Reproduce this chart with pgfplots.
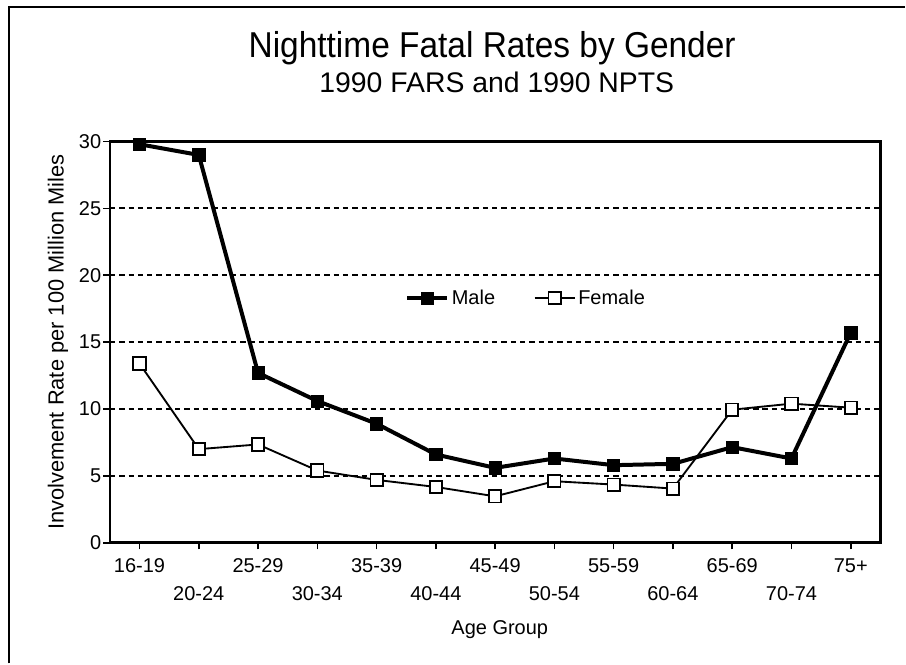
\documentclass[border=0pt]{standalone}
\usepackage{pgfplots}
\pgfplotsset{compat=1.18}
\usepackage{fontspec}
\setmainfont{Liberation Sans}
\newfontfamily\titlefont[FakeStretch=0.93]{Liberation Sans}
\begin{document}
\begin{tikzpicture}[x=1pt,y=1pt]
% canvas: 906x664 px at 0.75pt/px
\path (0,0) rectangle (679.5,498);
% outer frame (left and top only visible)
\draw[line width=1.5pt] (7,0) -- (7,492.8) -- (679.5,492.8);
\node[anchor=base,font=\titlefont\fontsize{27}{30}\selectfont] at (369.5,454.5) {Nighttime Fatal Rates by Gender};
\node[anchor=base,font=\fontsize{21.3}{24}\selectfont] at (373,428.5) {1990 FARS and 1990 NPTS};
\begin{axis}[
  at={(82.5pt,90.5pt)}, anchor=south west,
  scale only axis=true,
  width=578.5pt, height=301.2pt,
  xmin=-0.5, xmax=12.5, ymin=0, ymax=30,
  axis line style={line width=2pt},
  xtick={0,...,12},
  xticklabels={16-19,\raisebox{-21.3pt}{20-24},25-29,\raisebox{-21.3pt}{30-34},35-39,\raisebox{-21.3pt}{40-44},45-49,\raisebox{-21.3pt}{50-54},55-59,\raisebox{-21.3pt}{60-64},65-69,\raisebox{-21.3pt}{70-74},75+},
  ytick={0,5,...,30},
  xtick pos=bottom, ytick pos=left,
  tick align=outside,
  major tick length=5pt,
  tick style={line width=1.2pt, black},
  ticklabel style={font=\fontsize{15}{17}\selectfont},
  xticklabel style={anchor=base, yshift=-17pt},
  yticklabel style={xshift=2pt},
  /pgf/number format/assume math mode=true,
  ymajorgrids=true,
  major grid style={black, line width=1.5pt, dash pattern=on 4pt off 3pt},
  ylabel={Involvement Rate per 100 Million Miles},
  ylabel style={at={(axis description cs:-0.0675,0.5)}, anchor=center, font=\fontsize{16.4}{18}\selectfont},
  xlabel={Age Group},
  xlabel style={at={(axis description cs:0.506,0)}, anchor=base, yshift=-68.8pt, font=\fontsize{15}{17}\selectfont},
  clip=false,
  legend columns=2,
  legend style={draw=none, fill=none, at={(axis description cs:0.383,0.61)}, anchor=west,
    font=\fontsize{15}{17}\selectfont, inner sep=0pt,
    /tikz/every even column/.append style={column sep=27pt}},
  legend image code/.code={\draw[mark repeat=2,mark phase=2,#1] plot coordinates {(0pt,0pt) (15pt,0pt) (30pt,0pt)};},
]
\addplot[black, line width=3pt, mark=square*, mark size=4.6pt, mark options={solid, line width=0.5pt, fill=black}]
  coordinates {(0,29.8) (1,29.0) (2,12.7) (3,10.6) (4,8.9) (5,6.6) (6,5.6) (7,6.3) (8,5.8) (9,5.9) (10,7.15) (11,6.3) (12,15.7)};
\addlegendentry{Male}
\addplot[black, line width=1.4pt, mark=square*, mark size=4.6pt, mark options={solid, line width=1.4pt, fill=white}]
  coordinates {(0,13.4) (1,7.0) (2,7.35) (3,5.4) (4,4.7) (5,4.17) (6,3.47) (7,4.6) (8,4.35) (9,4.05) (10,9.95) (11,10.4) (12,10.1)};
\addlegendentry{Female}
\end{axis}
\end{tikzpicture}
\end{document}
